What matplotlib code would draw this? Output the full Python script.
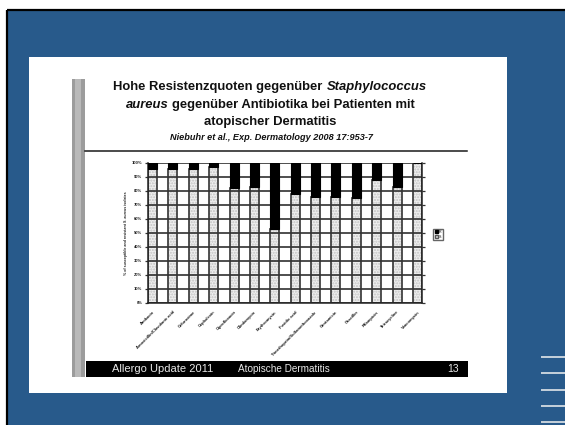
import matplotlib
matplotlib.use("Agg")
import matplotlib.pyplot as plt
from matplotlib.patches import Rectangle, Patch
import numpy as np

# ---- data -------------------------------------------------------------
antibiotics = [
    "Amikacin",
    "Amoxicillin/Clavulanic acid",
    "Cefuroxime",
    "Cephalexin",
    "Ciprofloxacin",
    "Clindamycin",
    "Erythromycin",
    "Fusidic acid",
    "Trimethoprim/Sulfamethoxazole",
    "Gentamicin",
    "Oxacillin",
    "Rifampicin",
    "Tetracycline",
    "Vancomycin",
]
resistant = [4, 4, 4, 3, 18, 17, 47, 22, 24, 24, 25, 12, 17, 0]
susceptible = [100 - r for r in resistant]
yticks = list(range(0, 101, 10))
ytick_labels = [f"{v}%" for v in yticks]
series_labels = ["R", "S"]

title_lines = [
    [("Hohe Resistenzquoten gegenüber", "normal"), ("Staphylococcus", "italic")],
    [("aureus", "italic"), ("gegenüber Antibiotika bei Patienten mit", "normal")],
    [("atopischer Dermatitis", "normal")],
]
citation = "Niebuhr et al., Exp. Dermatology 2008 17:953-7"
footer_left = "Allergo Update 2011"
footer_mid = "Atopische Dermatitis"
footer_page = "13"

# ---- figure / slide frame ---------------------------------------------
W, H = 565, 425
FONT = ["Liberation Sans", "DejaVu Sans"]
plt.rcParams["font.family"] = FONT
BLUE = "#285a8b"

fig = plt.figure(figsize=(W / 100, H / 100), dpi=100, facecolor="white")
bg = fig.add_axes([0, 0, 1, 1])
bg.set_xlim(0, W)
bg.set_ylim(H, 0)
bg.axis("off")

bg.add_patch(Rectangle((7, 10), W - 7, H - 10, facecolor=BLUE, edgecolor="none"))
bg.plot([7, 7], [10, H], color="black", lw=1.6, solid_capstyle="butt")
bg.plot([7, W], [10, 10], color="black", lw=1.6, solid_capstyle="butt")

# white slide area
bg.add_patch(Rectangle((29, 57), 478, 336, facecolor="white", edgecolor="none"))

# decorative lines at lower right
for yy in [357, 373, 390, 406, 422]:
    bg.plot([541, W], [yy, yy], color="#f2f2f2", lw=1.1, solid_capstyle="butt")

# grey side strip of the scanned page
bg.add_patch(Rectangle((72, 79), 13, 298, facecolor="#9c9c9c", edgecolor="none"))
bg.add_patch(Rectangle((75, 79), 6, 298, facecolor="#b9b9b9", edgecolor="none"))

# footer bar
bg.add_patch(Rectangle((86, 361), 382, 16, facecolor="black", edgecolor="none"))
bg.text(112, 369.5, footer_left, color="#e8e8e8", fontsize=8.0, va="center")
bg.text(238, 369.5, footer_mid, color="#e8e8e8", fontsize=7.2, va="center")
bg.text(447, 369.5, footer_page, color="#e8e8e8", fontsize=7.5, va="center")

# rule under the title
bg.plot([85, 467], [151, 151], color="#1a1a1a", lw=1.1)

# ---- title with mixed upright / italic pieces ---------------------------
renderer = fig.canvas.get_renderer()


def text_width(s, **kw):
    t = bg.text(0, 0, s, **kw)
    w = t.get_window_extent(renderer).width
    t.remove()
    return w


def mixed_line(cx, y, parts, size):
    kw = dict(fontsize=size, fontweight="bold")
    space = text_width("a a", **kw) - text_width("aa", **kw)
    widths = [text_width(s, style=st, **kw) for s, st in parts]
    total = sum(widths) + space * (len(parts) - 1)
    x = cx - total / 2
    for (s, st), w in zip(parts, widths):
        bg.text(x, y, s, style=st, va="center", ha="left", color="#111111", **kw)
        x += w + space


for yy, parts in zip([87, 105, 122], title_lines):
    mixed_line(270, yy, parts, 9.4)
bg.text(271, 138, citation, fontsize=6.6, fontweight="bold", style="italic",
        ha="center", va="center", color="#111111")

# ---- chart ------------------------------------------------------------
x = np.arange(len(antibiotics))
bw = 0.44
ax = fig.add_axes([148 / W, 1 - 303 / H, (422 - 148) / W, 140 / H])
ax.set_facecolor("white")
ax.set_xlim(0, len(antibiotics) - 1 + bw)
ax.set_ylim(0, 100)

# susceptible part: stippled light fill
ax.bar(x, susceptible, bw, align="edge", color="#eeeeee", edgecolor="#c2c2c2",
       hatch="......", lw=0, zorder=1)
# horizontal grid
ax.hlines(yticks, 0, 1, transform=ax.get_yaxis_transform(), color="#303030",
          lw=1.2, zorder=2)
# bar outlines
ax.bar(x, susceptible, bw, align="edge", fill=False, edgecolor="#333333",
       lw=1.2, zorder=2.5)
# resistant part
ax.bar(x, resistant, bw, bottom=susceptible, align="edge", color="black",
       edgecolor="black", lw=0.8, zorder=3)

for side in ["left", "right", "bottom"]:
    ax.spines[side].set_color("#222222")
    ax.spines[side].set_linewidth(1.1)
ax.spines["top"].set_visible(False)

ax.set_yticks(yticks)
ax.set_yticklabels(ytick_labels, fontsize=3, fontweight="bold", color="#222222")
ax.tick_params(axis="y", which="both", direction="out", length=2.5, width=0.9,
               color="#333333", right=True, labelright=False, pad=1.5)
ax.set_xticks(x + bw / 2)
ax.set_xticklabels(antibiotics, rotation=45, ha="right", rotation_mode="anchor",
                   fontsize=3, fontweight="bold", color="#1a1a1a")
ax.tick_params(axis="x", length=0, pad=5)
ax.set_ylabel("% of susceptible and resistant S. aureus isolates", fontsize=2.6,
              fontweight="bold", color="#222222", labelpad=3)

handles = [Patch(facecolor="black", edgecolor="black"),
           Patch(facecolor="#ededed", edgecolor="#555555")]
ax.legend(handles, series_labels, loc="center left", bbox_to_anchor=(1.035, 0.49),
          fontsize=2.6, handlelength=0.9, handleheight=0.9, handletextpad=0.3,
          borderpad=0.35, labelspacing=0.3, frameon=True, fancybox=False,
          edgecolor="#666666", framealpha=1)

fig.savefig("out.png", dpi=100, facecolor="white")
